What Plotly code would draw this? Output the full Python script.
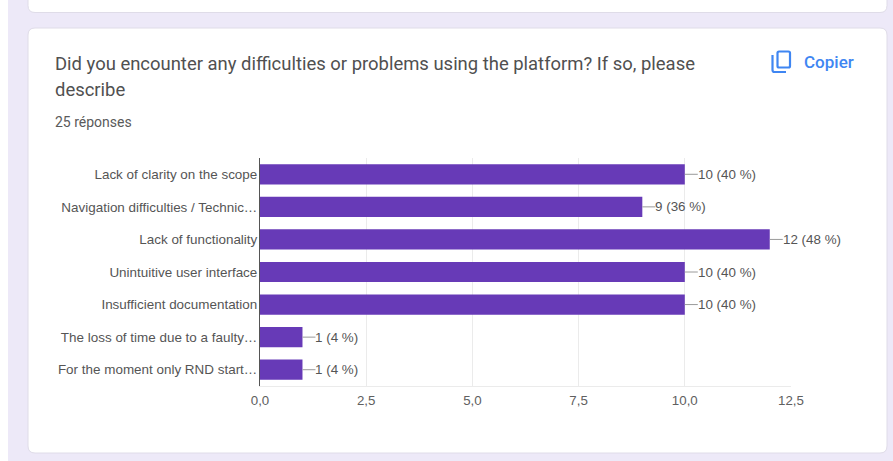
import plotly.graph_objects as go

W, H = 893, 461
L, R, T, B = 260, 791, 158, 386

categories = [
    "Lack of clarity on the scope",
    "Navigation difficulties / Technic…",
    "Lack of functionality",
    "Unintuitive user interface",
    "Insufficient documentation",
    "The loss of time due to a faulty…",
    "For the moment only RND start…",
]
counts = [10, 9, 12, 10, 10, 1, 1]
percents = [40, 36, 48, 40, 40, 4, 4]
x_ticks = [0, 2.5, 5, 7.5, 10, 12.5]
x_tick_labels = ["0,0", "2,5", "5,0", "7,5", "10,0", "12,5"]

TITLE_1 = "Did you encounter any difficulties or problems using the platform? If so, please"
TITLE_2 = "describe"
SUBTITLE = "25 réponses"
COPY_TEXT = "Copier"


def px(x):
    return (x - L) / (R - L)


def py(y):
    return (B - y) / (B - T)


def round_rect(x0, y0, x1, y1, r):
    return (
        f"M {px(x0 + r)} {py(y0)} L {px(x1 - r)} {py(y0)} "
        f"Q {px(x1)} {py(y0)} {px(x1)} {py(y0 + r)} L {px(x1)} {py(y1 - r)} "
        f"Q {px(x1)} {py(y1)} {px(x1 - r)} {py(y1)} L {px(x0 + r)} {py(y1)} "
        f"Q {px(x0)} {py(y1)} {px(x0)} {py(y1 - r)} L {px(x0)} {py(y0 + r)} "
        f"Q {px(x0)} {py(y0)} {px(x0 + r)} {py(y0)} Z"
    )


def rect(x0, y0, x1, y1, fill, line=None, width=0):
    return dict(type="rect", xref="paper", yref="paper", layer="below",
                x0=px(x0), x1=px(x1), y0=py(y1), y1=py(y0), fillcolor=fill,
                line=dict(color=line or fill, width=width))


def path(d, fill, line, width):
    return dict(type="path", xref="paper", yref="paper", layer="below", path=d,
                fillcolor=fill, line=dict(color=line, width=width))


LAVENDER = "#ede9f8"
BORDER = "#dfdce8"
BLUE = "#3f86f2"

shapes = [
    rect(0, 0, W, H, "#ffffff"),
    rect(8, 0, W, H, LAVENDER),
    path(round_rect(28, -20, 887, 12.5, 7), "#ffffff", BORDER, 1),
    path(round_rect(28, 28, 887, 453, 7), "#ffffff", BORDER, 1),
    # copy icon
    path(round_rect(777.5, 51.5, 790, 67.5, 1.5), "rgba(0,0,0,0)", BLUE, 2.2),
    path(
        f"M {px(772.5)} {py(55)} L {px(772.5)} {py(70)} "
        f"Q {px(772.5)} {py(72)} {px(774.5)} {py(72)} L {px(786)} {py(72)}",
        "rgba(0,0,0,0)", BLUE, 2.2,
    ),
]

TITLE_FONT = dict(family="Roboto", size=18.45, color="#505050")
annotations = [
    dict(xref="paper", yref="paper", x=px(53), y=py(63.5), xanchor="left", yanchor="middle",
         text=TITLE_1, showarrow=False, font=TITLE_FONT),
    dict(xref="paper", yref="paper", x=px(53), y=py(90), xanchor="left", yanchor="middle",
         text=TITLE_2, showarrow=False, font=TITLE_FONT),
    dict(xref="paper", yref="paper", x=px(53), y=py(122), xanchor="left", yanchor="middle",
         text=SUBTITLE, showarrow=False,
         font=dict(family="Roboto", size=14, color="#5a5a5a")),
    dict(xref="paper", yref="paper", x=px(802), y=py(62), xanchor="left", yanchor="middle",
         text=COPY_TEXT, showarrow=False,
         font=dict(family="Roboto", size=17, color=BLUE, weight=500)),
]

for cat, n, pct in zip(categories, counts, percents):
    annotations.append(dict(
        x=n, y=cat, xref="x", yref="y", text=f"{n} ({pct} %)", showarrow=True,
        arrowhead=0, arrowwidth=1, arrowcolor="#9a9a9a", ax=13, ay=0, standoff=0,
        xanchor="left", yanchor="middle", borderpad=0, borderwidth=0,
        font=dict(family="Liberation Sans", size=13.4, color="#555555"),
    ))

fig = go.Figure(go.Bar(
    x=counts, y=categories, orientation="h", width=0.62,
    marker=dict(color="#673ab7", line=dict(width=0)),
))

fig.update_layout(
    width=W, height=H, autosize=False,
    margin=dict(l=L, r=W - R, t=T, b=H - B, pad=0),
    paper_bgcolor="#ffffff", plot_bgcolor="rgba(0,0,0,0)",
    showlegend=False, shapes=shapes, annotations=annotations,
    xaxis=dict(range=[0, 12.5], tickvals=x_ticks, ticktext=x_tick_labels,
               showgrid=True, gridcolor="#ebebeb", gridwidth=1, zeroline=False,
               showline=True, linecolor="#ebebeb", linewidth=1, ticks="",
               ticklabelstandoff=2,
               tickfont=dict(family="Liberation Sans", size=13.3, color="#606060")),
    yaxis=dict(autorange="reversed", showgrid=False, zeroline=False,
               showline=True, linecolor="#555555", linewidth=1, ticks="",
               ticklabelstandoff=-1,
               tickfont=dict(family="Liberation Sans", size=13.45, color="#555555")),
)

fig.write_html("out.html", config=dict(displayModeBar=False),
               post_script="document.body.style.margin='0';document.body.style.overflow='hidden';")
